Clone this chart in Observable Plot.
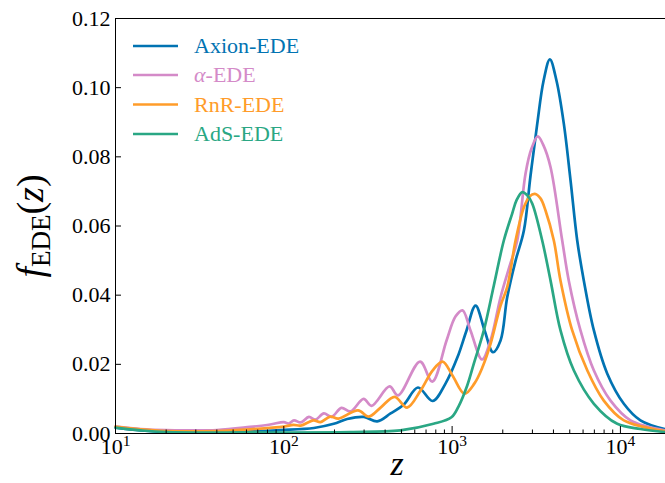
<!DOCTYPE html>
<html>
<head>
<meta charset="utf-8">
<script src="https://cdn.jsdelivr.net/npm/d3@7"></script>
<script src="https://cdn.jsdelivr.net/npm/@observablehq/plot@0.6"></script>
<style>
  html, body { margin: 0; padding: 0; background: #fff; }
  #chart { width: 665px; height: 483px; }
</style>
</head>
<body>
<div id="chart"></div>
<script>
// ---- data ----
const seriesNames = ["Axion-EDE", "α-EDE", "RnR-EDE", "AdS-EDE"];
const seriesColors = ["#0173b2", "#d48ac8", "#ff9c2a", "#2aa784"];

const axionZ = [10, 14.1, 20, 40, 63, 95, 151, 198, 238, 299, 359, 431, 517, 627, 765, 915, 1077, 1218, 1378, 1560, 1750, 1940, 2125, 2383, 2670, 2924, 3206, 3495, 3810, 4172, 4610, 5054, 5538, 6063, 6956, 8355, 10480, 13150, 18530];
const axionF = [0.0017, 0.0009, 0.0004, 0.0004, 0.0006, 0.001, 0.0016, 0.0028, 0.0042, 0.0048, 0.0035, 0.0058, 0.0084, 0.0133, 0.0094, 0.0145, 0.0221, 0.0298, 0.037, 0.0298, 0.0235, 0.0269, 0.0394, 0.050, 0.0587, 0.0746, 0.0896, 0.102, 0.1082, 0.102, 0.0896, 0.0732, 0.0558, 0.0442, 0.0298, 0.0173, 0.0086, 0.0038, 0.0012];

const alphaZ = [10, 14.1, 20, 40, 63, 83, 100, 107, 115, 126, 141, 154, 173, 192, 220, 249, 298, 332, 425, 477, 645, 762, 927, 1047, 1153, 1286, 1506, 1692, 1940, 2193, 2438, 2731, 2963, 3230, 3490, 3845, 4510, 4935, 5791, 6956, 8734, 11480, 18530];
const alphaF = [0.002, 0.0013, 0.001, 0.001, 0.0019, 0.0026, 0.0033, 0.0029, 0.0038, 0.0032, 0.0048, 0.004, 0.0058, 0.0048, 0.0074, 0.0064, 0.01, 0.008, 0.0136, 0.011, 0.0208, 0.015, 0.0269, 0.0338, 0.0356, 0.0298, 0.0214, 0.0269, 0.0394, 0.0483, 0.0558, 0.0752, 0.0824, 0.0859, 0.0833, 0.077, 0.0558, 0.0442, 0.0298, 0.0182, 0.0095, 0.0038, 0.0009];

const rnrZ = [10, 14.1, 20, 40, 63, 100, 114, 126, 150, 165, 189, 211, 276, 320, 376, 455, 540, 649, 765, 878, 1005, 1185, 1358, 1516, 1692, 1940, 2125, 2383, 2670, 2882, 3100, 3350, 3589, 4021, 4406, 5172, 6360, 7965, 10480, 18530];
const rnrF = [0.002, 0.0012, 0.0007, 0.0007, 0.0012, 0.002, 0.0025, 0.0023, 0.0038, 0.0033, 0.0049, 0.0043, 0.0067, 0.0049, 0.0075, 0.0106, 0.0075, 0.0124, 0.0182, 0.0208, 0.0168, 0.0115, 0.0145, 0.0192, 0.0259, 0.037, 0.0423, 0.0558, 0.0654, 0.0685, 0.0693, 0.068, 0.0645, 0.0558, 0.0442, 0.0298, 0.0182, 0.0095, 0.0038, 0.0007];

const adsZ = [10, 14.1, 20, 63, 249, 493, 775, 991, 1091, 1230, 1346, 1543, 1770, 2029, 2275, 2413, 2612, 2806, 2992, 3430, 3845, 4406, 5290, 6956, 9570, 13150, 18530];
const adsF = [0.0017, 0.0009, 0.0004, 0.0003, 0.0004, 0.0009, 0.0028, 0.0047, 0.0078, 0.0139, 0.0202, 0.0298, 0.0428, 0.0558, 0.0636, 0.0674, 0.0698, 0.0688, 0.0665, 0.0558, 0.0442, 0.0298, 0.0182, 0.0086, 0.0028, 0.0013, 0.0004];

const yTicks = [0, 0.02, 0.04, 0.06, 0.08, 0.10, 0.12];
const xMajor = [10, 100, 1000, 10000];
const xExponents = ["1", "2", "3", "4"];
const xMinor = [20, 30, 40, 50, 60, 70, 80, 90, 200, 300, 400, 500, 600, 700, 800, 900, 2000, 3000, 4000, 5000, 6000, 7000, 8000, 9000];
const xDomain = [10, 18530];
const yDomain = [0, 0.12];

// ---- build table ----
const zs = [axionZ, alphaZ, rnrZ, adsZ];
const fs = [axionF, alphaF, rnrF, adsF];
const rows = [];
seriesNames.forEach((s, i) => zs[i].forEach((z, j) => rows.push({s, z, f: fs[i][j]})));

const FONT = "'Liberation Serif'";

const chart = Plot.plot({
  width: 665,
  height: 483,
  marginLeft: 115,
  marginRight: 0,
  marginTop: 18,
  marginBottom: 50,
  style: {background: "#fff", color: "#000", overflow: "visible"},
  x: {type: "log", domain: xDomain},
  y: {domain: yDomain},
  color: {domain: seriesNames, range: seriesColors},
  marks: [
    Plot.line(rows, {x: "z", y: "f", z: "s", stroke: "s", strokeWidth: 2.7, curve: "catmull-rom"}),
    Plot.ruleX([xDomain[0]], {stroke: "#000", strokeWidth: 1}),
    Plot.ruleY([yDomain[0]], {stroke: "#000", strokeWidth: 1.2}),
    Plot.ruleY([yDomain[1]], {stroke: "#000", strokeWidth: 1}),
    Plot.axisY(yTicks, {tickSize: 0, tickPadding: 5, tickFormat: d => d.toFixed(2), label: null}),
    Plot.axisY(yTicks, {tickSize: -6, tickFormat: () => "", label: null}),
    Plot.axisX(xMajor, {tickSize: -7, tickFormat: () => "", label: null}),
    Plot.axisX(xMinor, {tickSize: -3.5, tickFormat: () => "", label: null}),
    Plot.axisX(xMajor, {tickSize: 0, tickPadding: 5, tickFormat: (d) => "10^" + xExponents[xMajor.indexOf(d)], label: null})
  ]
});
document.getElementById("chart").appendChild(chart);

const svg = d3.select(chart);
// tick label fonts
svg.selectAll("text").style("font-family", FONT).style("font-size", "22px").style("fill", "#000");
// rebuild x tick labels as 10 with superscript exponent
svg.selectAll("text").each(function() {
  const el = d3.select(this);
  const s = el.text();
  if (s.startsWith("10^")) {
    const exp = s.split("^")[1];
    el.text("");
    el.append("tspan").text("10");
    el.append("tspan").style("font-size", "15.5px").attr("dy", "-0.55em").text(exp);
  }
});

// ---- axis titles & legend ----
const yl = svg.append("text")
  .attr("transform", "translate(43,226) rotate(-90)")
  .attr("text-anchor", "middle")
  .style("font-family", FONT)
  .style("font-size", "38px")
  .style("fill", "#000");
yl.append("tspan").style("font-style", "italic").text("f");
yl.append("tspan").style("font-size", "27px").attr("dy", 7).text("EDE");
yl.append("tspan").attr("dy", -7).text("(");
yl.append("tspan").style("font-style", "italic").text("z");
yl.append("tspan").text(")");

svg.append("text")
  .attr("x", 397).attr("y", 475)
  .attr("text-anchor", "middle")
  .style("font-family", FONT)
  .style("font-size", "34px")
  .style("font-style", "italic")
  .style("fill", "#000")
  .text("z");

const legendY = [46, 75, 104.5, 134];
seriesNames.forEach((s, i) => {
  svg.append("line")
    .attr("x1", 133).attr("x2", 178)
    .attr("y1", legendY[i]).attr("y2", legendY[i])
    .attr("stroke", seriesColors[i]).attr("stroke-width", 2.7);
  const t = svg.append("text")
    .attr("x", 194).attr("y", legendY[i] + 7)
    .attr("text-anchor", "start")
    .style("font-family", FONT).style("font-size", "22px")
    .style("fill", seriesColors[i]);
  if (s.startsWith("α")) {
    t.append("tspan").style("font-style", "italic").text("α");
    t.append("tspan").text(s.slice(1));
  } else {
    t.text(s);
  }
});
</script>
</body>
</html>
